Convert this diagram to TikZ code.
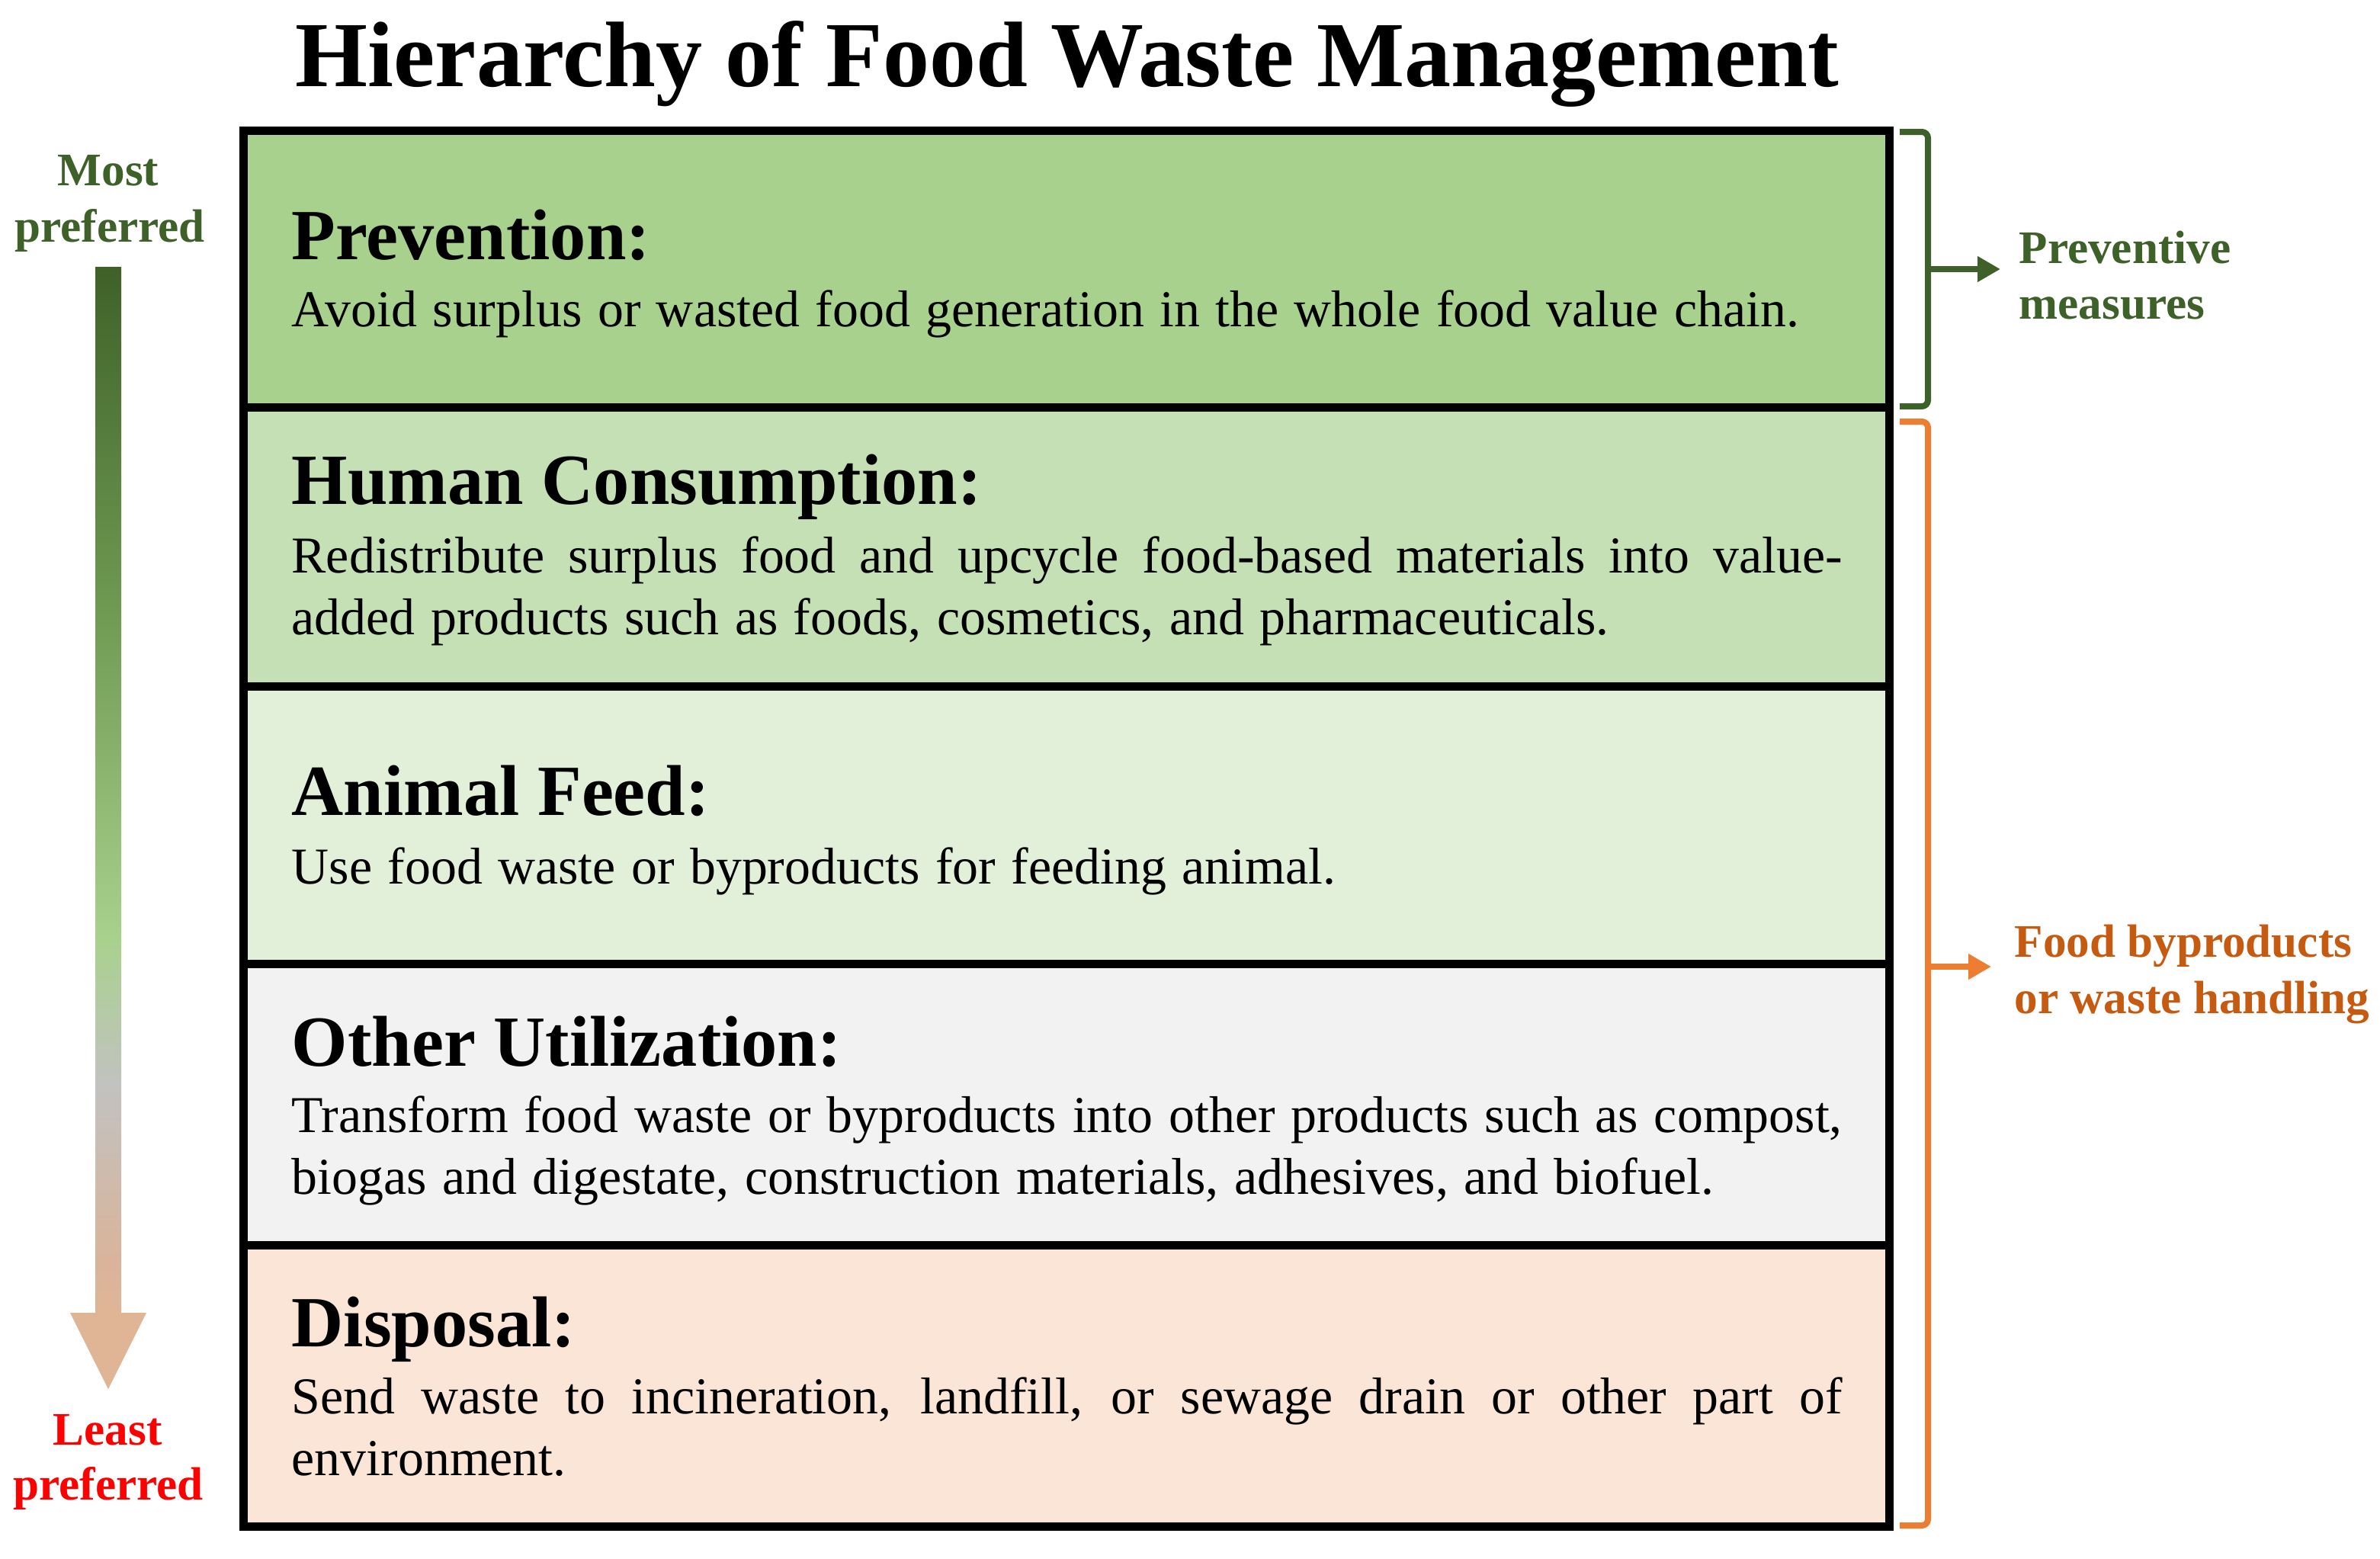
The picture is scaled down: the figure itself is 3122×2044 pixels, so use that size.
\documentclass[tikz,border=0pt]{standalone}
\usepackage{fontspec}
\setmainfont{Liberation Serif}
\usetikzlibrary{arrows.meta}
\definecolor{rowA}{HTML}{A9D18E}
\definecolor{rowB}{HTML}{C5E0B4}
\definecolor{rowC}{HTML}{E2F0D9}
\definecolor{rowD}{HTML}{F2F2F2}
\definecolor{rowE}{HTML}{FBE5D6}
\definecolor{dkgreen}{HTML}{3D6128}
\definecolor{orangeline}{HTML}{ED7D31}
\definecolor{orangetext}{HTML}{C55A11}
\definecolor{peach}{HTML}{DFB596}
\definecolor{gA}{HTML}{3F6129}
\definecolor{gB}{HTML}{6F9A52}
\definecolor{gC}{HTML}{A9D18E}
\definecolor{gD}{HTML}{C2C2C0}
\definecolor{gE}{HTML}{D9B49B}
\pgfdeclareverticalshading{prefshade}{100bp}{color(0bp)=(peach); color(28.4bp)=(peach); color(30.8bp)=(gE); color(38.5bp)=(gD); color(45bp)=(gC); color(59.7bp)=(gB); color(75bp)=(gA); color(100bp)=(gA)}
\tolerance=10000
\hyphenpenalty=10000
\exhyphenpenalty=10000
\newcommand{\bodyfont}{\fontsize{19.3pt}{23.05pt}\selectfont\spaceskip=0.3em plus 1em minus 0.06em\relax}
\tikzset{
  rowbox/.style={draw=none, minimum width=21.58cm, inner sep=0pt, outer sep=0pt, anchor=north west},
  frame/.style={draw=black, line width=0.11cm},
  headtext/.style={anchor=base west, inner sep=0pt, font=\fontsize{26.85pt}{32pt}\selectfont\bfseries},
  bodytext/.style={anchor=base west, inner sep=0pt, text width=20.33cm, align=justify, font=\bodyfont},
  sidetext/.style={inner sep=0pt, font=\fontsize{17.4pt}{21pt}\selectfont\bfseries},
  brk/.style={line width=0.08cm, rounded corners=0.08cm},
  brkarrow/.style={line width=0.08cm, -{Triangle[length=0.3cm,width=0.32cm]}}
}
\begin{document}
\begin{tikzpicture}[x=0.01cm,y=-0.01cm]
\useasboundingbox (0,0) rectangle (3122,2044);
\fill[white] (0,0) rectangle (3122,2044);

% title
\node[anchor=base, inner sep=0pt, font=\fontsize{34.7pt}{40pt}\selectfont\bfseries] (title) at (1400,113) {Hierarchy of Food Waste Management};

% rows
\node[rowbox, fill=rowA, minimum height=3.63cm] (r1) at (319,171) {};
\node[rowbox, fill=rowB, minimum height=3.66cm] (r2) at (319,534) {};
\node[rowbox, fill=rowC, minimum height=3.64cm] (r3) at (319,900) {};
\node[rowbox, fill=rowD, minimum height=3.69cm] (r4) at (319,1264) {};
\node[rowbox, fill=rowE, minimum height=3.69cm] (r5) at (319,1633) {};
\draw[frame] (r1.south west) -- (r1.south east);
\draw[frame] (r2.south west) -- (r2.south east);
\draw[frame] (r3.south west) -- (r3.south east);
\draw[frame] (r4.south west) -- (r4.south east);
\draw[frame] (r1.north west) rectangle (r5.south east);

% row texts
\node[headtext] (h1) at (382,340) {Prevention:};
\node[bodytext] (b1) at (382,428) {Avoid surplus or wasted food generation in the whole food value chain.};
\node[headtext] (h2) at (382,661) {Human Consumption:};
\node[bodytext] (b2) at (382,751) {Redistribute surplus food and upcycle food-based materials into value-\linebreak added products such as foods, cosmetics, and pharmaceuticals.};
\node[headtext] (h3) at (382,1069) {Animal Feed:};
\node[bodytext] (b3) at (382,1159) {Use food waste or byproducts for feeding animal.};
\node[headtext] (h4) at (382,1398) {Other Utilization:};
\node[bodytext] (b4) at (382,1485) {Transform food waste or byproducts into other products such as compost,\linebreak biogas and digestate, construction materials, adhesives, and biofuel.};
\node[headtext] (h5) at (382,1766) {Disposal:};
\node[bodytext] (b5) at (382,1854) {Send waste to incineration, landfill, or sewage drain or other part of\linebreak environment.};

% left preference arrow
\path[shading=prefshade] (125,350) -- (159,350) -- (159,1722) -- (192,1722) -- (142,1822) -- (92,1722) -- (125,1722) -- cycle;
\node[sidetext, anchor=base, text=dkgreen] (most1) at (142,243) {Most};
\node[sidetext, anchor=base, text=dkgreen] (most2) at (144,317) {preferred};
\node[sidetext, anchor=base, text=red] (least1) at (141,1895) {Least};
\node[sidetext, anchor=base, text=red] (least2) at (142,1967) {preferred};

% right brackets
\coordinate (gtop) at (2492,173);
\coordinate (gbot) at (2492,533);
\coordinate (gmid) at (2529,353);
\coordinate (gtip) at (2624,353);
\draw[brk, dkgreen] (gtop) -- (2529,173) -- (2529,533) -- (gbot);
\draw[brkarrow, dkgreen] (gmid) -- (gtip);
\node[sidetext, anchor=base west, text=dkgreen] (prev1) at (2648,345) {Preventive};
\node[sidetext, anchor=base west, text=dkgreen] (prev2) at (2648,418) {measures};

\coordinate (otop) at (2492,553);
\coordinate (obot) at (2492,2001);
\coordinate (omid) at (2529,1268);
\coordinate (otip) at (2612,1268);
\draw[brk, orangeline] (otop) -- (2529,553) -- (2529,2001) -- (obot);
\draw[brkarrow, orangeline] (omid) -- (otip);
\node[sidetext, anchor=base west, text=orangetext] (food1) at (2642,1255) {Food byproducts};
\node[sidetext, anchor=base west, text=orangetext] (food2) at (2642,1329) {or waste handling};
\end{tikzpicture}
\end{document}
